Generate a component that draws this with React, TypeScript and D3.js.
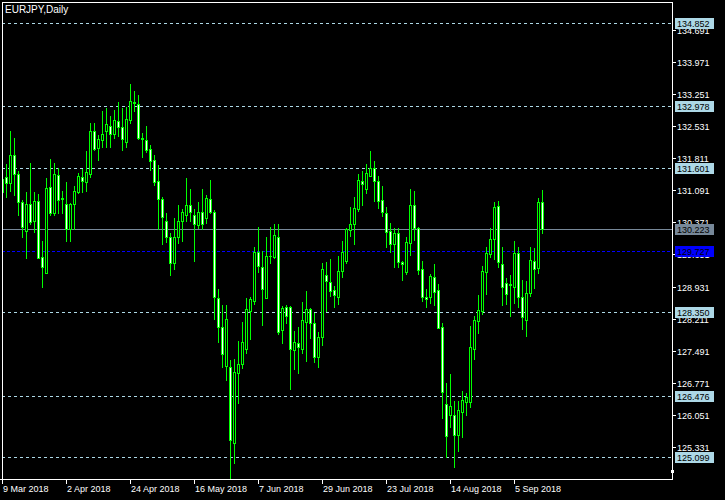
import React from "react";
import * as d3 from "d3";

const W = 725;
const H = 500;

const title = "EURJPY,Daily";

// Daily candles, 9 Mar 2018 .. 14 Sep 2018 (index 0..135)
const opens = [
  131.05, 131.399, 131.249, 131.878, 131.459, 130.822, 130.185, 130.785, 130.41, 130.852,
  129.586, 129.242, 131.174, 130.59, 131.429, 130.9, 130.777, 130.223, 130.777, 131.062,
  131.399, 131.272, 131.466, 132.418, 132.036, 132.23, 132.433, 132.545, 132.35, 132.65,
  132.507, 132.185, 132.665, 133.077, 133.024, 132.26, 132.215, 132.021, 131.766, 131.302,
  130.897, 130.395, 130.036, 129.452, 130.036, 130.396, 130.531, 130.756, 130.531, 130.306,
  130.598, 130.478, 130.89, 130.598, 128.666, 128.014, 127.153, 127.116, 125.408, 126.981,
  127.183, 127.52, 128.389, 128.613, 129.7, 129.378, 128.666, 129.62, 129.602, 130.052,
  127.954, 128.471, 128.464, 127.497, 127.655, 127.535, 128.127, 128.426, 128.104, 127.34,
  127.79, 129.183, 129.025, 128.846, 128.703, 129.273, 129.512, 130.194, 130.329, 130.666,
  131.302, 131.129, 131.422, 131.586, 131.302, 130.867, 130.575, 130.178, 129.894, 130.126,
  129.474, 129.265, 129.916, 130.755, 130.238, 129.317, 128.688, 128.688, 129.145, 128.853,
  128.014, 126.283, 126.044, 126.036, 125.602, 126.119, 126.343, 126.343, 127.519, 128.163,
  128.388, 129.265, 129.669, 129.991, 130.74, 129.437, 129.002, 128.957, 128.927, 129.676,
  128.688, 128.179, 128.778, 129.504, 129.354, 130.83,
];
const highs = [
  131.399, 131.684, 132.425, 132.268, 131.534, 130.875, 131.054, 131.706, 131.054, 131.009,
  129.953, 131.361, 131.796, 131.706, 131.586, 131.077, 131.279, 130.8, 131.189, 131.481,
  131.579, 131.983, 132.612, 132.612, 132.328, 132.874, 132.942, 132.762, 132.897, 133.077,
  132.949, 132.972, 133.481, 133.324, 133.234, 132.38, 132.537, 132.11, 131.878, 131.661,
  130.95, 130.575, 130.126, 130.463, 130.762, 130.666, 131.37, 131.123, 130.666, 130.831,
  131.123, 130.988, 131.317, 130.651, 128.876, 128.516, 128.516, 127.28, 127.295, 127.707,
  128.134, 128.673, 128.696, 129.819, 130.269, 129.73, 130.037, 130.269, 130.336, 130.336,
  128.501, 128.509, 128.501, 127.932, 128.022, 128.576, 128.831, 128.449, 128.329, 127.909,
  129.467, 129.482, 129.557, 128.951, 129.617, 129.954, 130.24, 130.726, 130.95, 131.467,
  131.526, 131.684, 131.976, 131.751, 131.414, 131.189, 130.71, 130.358, 130.238, 130.238,
  129.512, 130.036, 131.122, 131.077, 130.268, 129.504, 128.867, 129.212, 129.437, 128.987,
  128.104, 126.77, 126.965, 126.358, 126.358, 126.583, 126.531, 128.044, 128.276, 128.74,
  129.392, 129.826, 130.246, 130.83, 130.852, 129.826, 129.13, 129.197, 129.954, 129.826,
  129.077, 129.055, 129.819, 129.804, 130.912, 131.099,
];
const lows = [
  130.762, 130.935, 131.084, 130.987, 130.538, 130.051, 129.579, 130.328, 130.163, 129.564,
  128.927, 129.227, 130.538, 130.538, 130.59, 130.59, 129.961, 129.95, 130.223, 131.024,
  131.062, 131.084, 131.399, 131.998, 131.781, 132.073, 132.073, 132.073, 132.275, 132.32,
  132.006, 132.073, 132.597, 132.874, 132.253, 131.848, 131.953, 131.541, 131.212, 130.231,
  129.878, 129.923, 129.197, 129.332, 129.908, 129.962, 130.404, 130.404, 129.512, 130.239,
  130.216, 130.351, 130.576, 128.209, 127.692, 127.13, 126.831, 124.62, 124.958, 126.307,
  127.108, 127.43, 127.76, 128.539, 129.265, 128.074, 128.666, 129.467, 129.58, 127.865,
  127.67, 128.104, 126.621, 127.071, 126.981, 127.438, 127.265, 127.775, 127.243, 127.116,
  127.617, 128.381, 128.726, 128.479, 128.546, 129.153, 129.452, 130.067, 129.894, 130.636,
  130.762, 131.04, 131.414, 130.852, 130.688, 130.515, 129.826, 129.706, 129.377, 129.377,
  129.077, 129.212, 129.639, 129.976, 129.212, 128.605, 128.478, 128.553, 128.508, 128.0,
  125.984, 125.093, 125.767, 124.883, 125.242, 125.557, 126.044, 126.231, 127.302, 127.894,
  128.306, 128.77, 129.601, 129.549, 129.377, 128.516, 128.545, 128.276, 128.568, 128.463,
  127.976, 127.826, 128.718, 128.897, 129.235, 130.141,
];
const closes = [
  131.35, 131.249, 131.878, 131.459, 130.822, 130.26, 130.785, 130.388, 130.852, 129.579,
  129.377, 131.137, 130.59, 131.451, 130.875, 130.92, 130.223, 130.777, 131.077, 131.414,
  131.309, 131.496, 132.425, 132.021, 132.238, 132.358, 132.575, 132.35, 132.665, 132.507,
  132.253, 132.687, 133.092, 133.047, 132.275, 132.24, 132.006, 131.758, 131.287, 130.89,
  130.485, 130.036, 129.452, 130.036, 130.395, 130.606, 130.756, 130.598, 130.329, 130.598,
  130.336, 130.913, 130.598, 128.703, 128.014, 127.408, 128.194, 125.483, 127.003, 127.183,
  127.677, 128.419, 128.651, 129.7, 129.4, 128.868, 129.617, 129.61, 130.082, 127.917,
  128.441, 128.269, 127.52, 127.677, 127.565, 128.187, 128.419, 128.104, 127.34, 127.79,
  129.318, 129.048, 128.838, 128.733, 129.273, 129.707, 130.216, 130.329, 130.688, 131.317,
  131.242, 131.474, 131.586, 131.309, 130.86, 130.613, 130.163, 129.894, 130.126, 129.489,
  129.429, 129.931, 130.762, 130.238, 129.309, 128.688, 128.64, 129.167, 128.815, 128.006,
  126.568, 125.579, 126.246, 125.602, 126.156, 126.381, 126.456, 127.564, 128.171, 128.396,
  129.279, 129.676, 129.998, 130.71, 129.489, 128.912, 128.755, 128.987, 129.684, 128.688,
  128.253, 128.778, 129.527, 129.317, 130.822, 130.223,
];

const dateLabels = [
  "9 Mar 2018", "2 Apr 2018", "24 Apr 2018", "16 May 2018", "7 Jun 2018",
  "29 Jun 2018", "23 Jul 2018", "14 Aug 2018", "5 Sep 2018",
];
const dateLabelIndex = [0, 16, 32, 48, 64, 80, 96, 112, 128];

const priceTicks = [
  134.691, 133.971, 133.251, 132.531, 131.811, 131.091, 130.371, 129.651,
  128.931, 128.211, 127.491, 126.771, 126.051, 125.331,
];

// horizontal lines drawn on the chart
const levelLines = [134.852, 132.978, 131.601, 128.35, 126.476, 125.099];
const blueLine = 129.727;
const bidLine = 130.223;

const fmt = d3.format(".3f");

export default function App() {
  const left = 2;
  const right = 672;
  const top = 2;
  const bottom = 479;

  const x = d3.scaleLinear().domain([0, 135]).range([2, 542]);
  const y = d3.scaleLinear().domain([124.606, 135.324]).range([bottom, top]);
  const row = (p: number) => Math.round(y(p)) + 0.5;

  const green = "#00ff00";
  const lightBlue = "#add8e6";

  const candles = opens.map((o, i) => {
    const c = Math.round(x(i));
    const cl = closes[i];
    const hi = highs[i];
    const lo = lows[i];
    const yT = Math.round(y(Math.max(o, cl)));
    const yB = Math.round(y(Math.min(o, cl)));
    const yH = Math.round(y(hi));
    const yL = Math.round(y(lo));
    const bull = cl >= o;
    return (
      <g key={i}>
        <line x1={c + 0.5} x2={c + 0.5} y1={yH} y2={yL + 1} stroke={green} strokeWidth={1} />
        {yB - yT < 1 ? (
          <line x1={c - 1} x2={c + 2} y1={yT + 0.5} y2={yT + 0.5} stroke={green} strokeWidth={1} />
        ) : (
          <rect
            x={c - 0.5}
            y={yT + 0.5}
            width={2}
            height={yB - yT}
            fill={bull ? "#000000" : "#ffffff"}
            stroke={green}
            strokeWidth={1}
          />
        )}
      </g>
    );
  });

  const font = "'Liberation Sans', Arial, sans-serif";

  const labelBox = (p: number, bg: string, key: string) => {
    const r = Math.round(y(p));
    return (
      <g key={key}>
        <rect x={675} y={r - 5} width={39} height={11} fill={bg} />
        <text x={677} y={r + 4} fontSize={9} fill="#000000" fontFamily={font}>
          {fmt(p)}
        </text>
      </g>
    );
  };

  return (
    <svg width={W} height={H} style={{ display: "block", position: "absolute", left: 0, top: 0 }}>
      <rect x={0} y={0} width={W} height={H} fill="#000000" />
      <defs>
        <clipPath id="plot">
          <rect x={left + 1} y={top + 1} width={right - left - 1} height={bottom - top - 1} />
        </clipPath>
      </defs>

      <g clipPath="url(#plot)">
        {levelLines.map((p) => (
          <line
            key={p}
            x1={left}
            x2={right}
            y1={row(p)}
            y2={row(p)}
            stroke={lightBlue}
            strokeWidth={1}
            strokeDasharray="3,3"
          />
        ))}
        <line x1={left} x2={right} y1={row(bidLine)} y2={row(bidLine)} stroke="#778899" strokeWidth={1} />
        <line
          x1={left}
          x2={right}
          y1={row(blueLine)}
          y2={row(blueLine)}
          stroke="#0000ff"
          strokeWidth={1}
          strokeDasharray="3,2"
        />
        {candles}
      </g>

      {/* frame */}
      <line x1={left + 0.5} x2={left + 0.5} y1={top} y2={bottom + 1} stroke="#ffffff" />
      <line x1={left} x2={right + 1} y1={top + 0.5} y2={top + 0.5} stroke="#ffffff" />
      <line x1={right + 0.5} x2={right + 0.5} y1={top} y2={bottom + 1} stroke="#ffffff" />
      <line x1={0} x2={right + 1} y1={bottom + 0.5} y2={bottom + 0.5} stroke="#ffffff" />
      <rect x={right - 1} y={470} width={3} height={3} fill="#ffffff" />

      {/* price axis */}
      {priceTicks.map((p) => {
        const r = Math.round(y(p));
        return (
          <g key={p}>
            <line x1={right + 1} x2={right + 4} y1={r + 0.5} y2={r + 0.5} stroke="#ffffff" />
            <text x={677} y={r + 4} fontSize={9} fill="#ffffff" fontFamily={font}>
              {fmt(p)}
            </text>
          </g>
        );
      })}

      {levelLines.map((p) => labelBox(p, lightBlue, "lb" + p))}
      {labelBox(bidLine, "#778899", "bid")}
      {labelBox(blueLine, "#0000ff", "blue")}

      {/* time axis */}
      {dateLabels.map((d, k) => {
        const c = Math.round(x(dateLabelIndex[k]));
        return (
          <g key={d}>
            <line x1={c + 0.5} x2={c + 0.5} y1={bottom} y2={bottom + 5} stroke="#ffffff" />
            <text x={c + 1} y={492} fontSize={9} fill="#ffffff" fontFamily={font}>
              {d}
            </text>
          </g>
        );
      })}

      <text x={5} y={13} fontSize={10} fill="#ffffff" fontFamily={font}>
        {title}
      </text>
    </svg>
  );
}
